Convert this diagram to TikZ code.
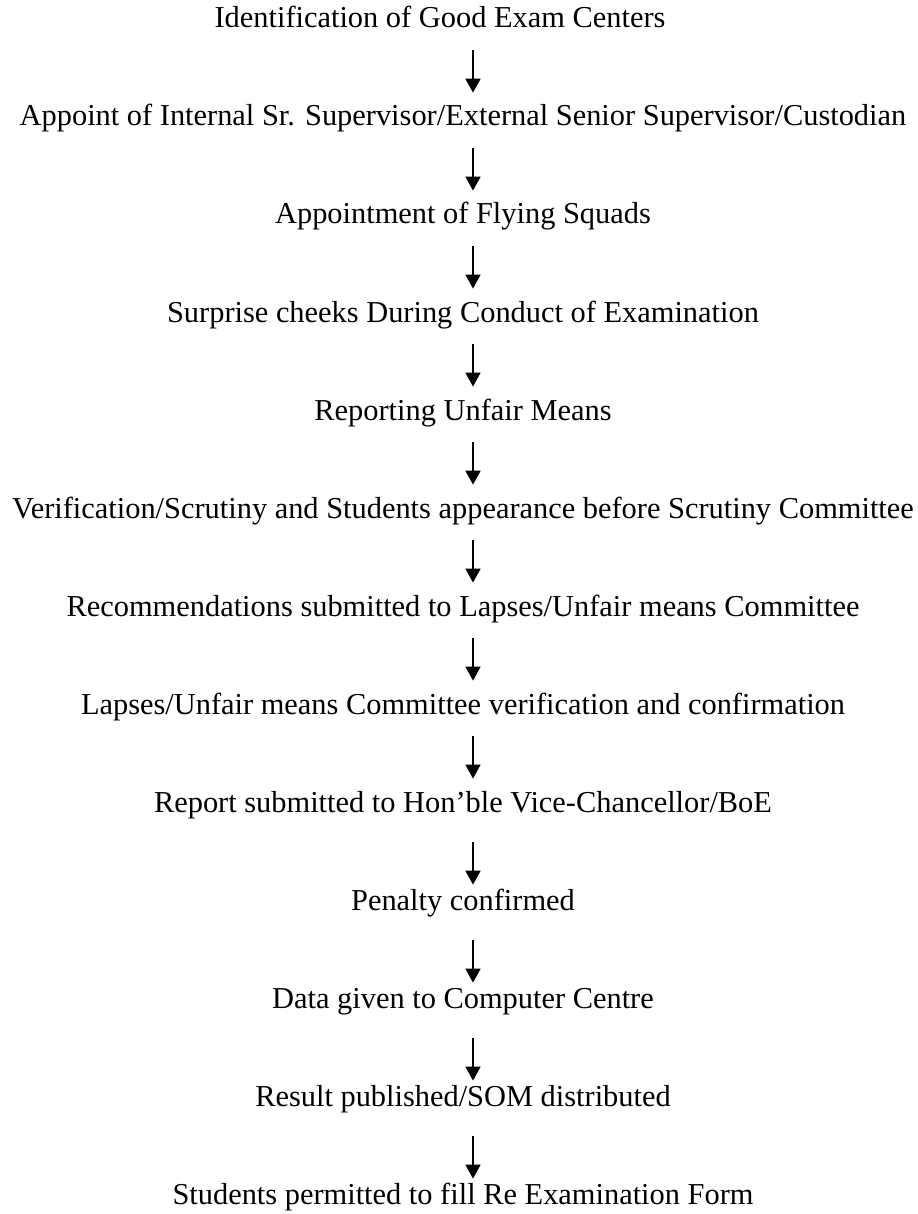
\documentclass[tikz,border=0pt]{standalone}
\usepackage{fontspec}
\setmainfont{Liberation Serif}
\usepackage{tikz}
\usetikzlibrary{arrows.meta}
\tikzstyle{stage} = [inner sep=0pt, text height=10pt, text depth=0pt, font=\fontsize{15.2}{18}\selectfont]
\tikzstyle{arrow} = [line width=0.9pt, -{Triangle[width=7.5pt,length=7pt]}, shorten <=11pt, shorten >=6.5pt]
\tikzstyle{arrowlow} = [arrow, shorten <=15pt, shorten >=2.5pt]
\begin{document}
\begin{tikzpicture}[node distance=49pt]
\useasboundingbox (-220pt,9pt) rectangle (238.5pt,-598pt);
\node (ident) [stage] {Identification of Good Exam Centers};
\node (appoint) [stage, below of=ident, xshift=11.5pt] {Appoint of Internal Sr. Supervisor/External Senior Supervisor/Custodian};
\node (squads) [stage, below of=appoint] {Appointment of Flying Squads};
\node (surprise) [stage, below of=squads] {Surprise cheeks During Conduct of Examination};
\node (report) [stage, below of=surprise] {Reporting Unfair Means};
\node (scrutiny) [stage, below of=report] {Verification/Scrutiny and Students appearance before Scrutiny Committee};
\node (recommend) [stage, below of=scrutiny] {Recommendations submitted to Lapses/Unfair means Committee};
\node (lapses) [stage, below of=recommend] {Lapses/Unfair means Committee verification and confirmation};
\node (vc) [stage, below of=lapses] {Report submitted to Hon’ble Vice-Chancellor/BoE};
\node (penalty) [stage, below of=vc] {Penalty confirmed};
\node (data) [stage, below of=penalty] {Data given to Computer Centre};
\node (result) [stage, below of=data] {Result published/SOM distributed};
\node (reexam) [stage, below of=result] {Students permitted to fill Re Examination Form};
\draw [arrow] ([xshift=16.5pt]ident.south) -- ([xshift=5pt]appoint.north);
\draw [arrow] ([xshift=5pt]appoint.south) -- ([xshift=5pt]squads.north);
\draw [arrow] ([xshift=5pt]squads.south) -- ([xshift=5pt]surprise.north);
\draw [arrow] ([xshift=5pt]surprise.south) -- ([xshift=5pt]report.north);
\draw [arrow] ([xshift=5pt]report.south) -- ([xshift=5pt]scrutiny.north);
\draw [arrow] ([xshift=5pt]scrutiny.south) -- ([xshift=5pt]recommend.north);
\draw [arrow] ([xshift=5pt]recommend.south) -- ([xshift=5pt]lapses.north);
\draw [arrow] ([xshift=5pt]lapses.south) -- ([xshift=5pt]vc.north);
\draw [arrowlow] ([xshift=5pt]vc.south) -- ([xshift=5pt]penalty.north);
\draw [arrowlow] ([xshift=5pt]penalty.south) -- ([xshift=5pt]data.north);
\draw [arrowlow] ([xshift=5pt]data.south) -- ([xshift=5pt]result.north);
\draw [arrowlow] ([xshift=5pt]result.south) -- ([xshift=5pt]reexam.north);
\end{tikzpicture}
\end{document}
